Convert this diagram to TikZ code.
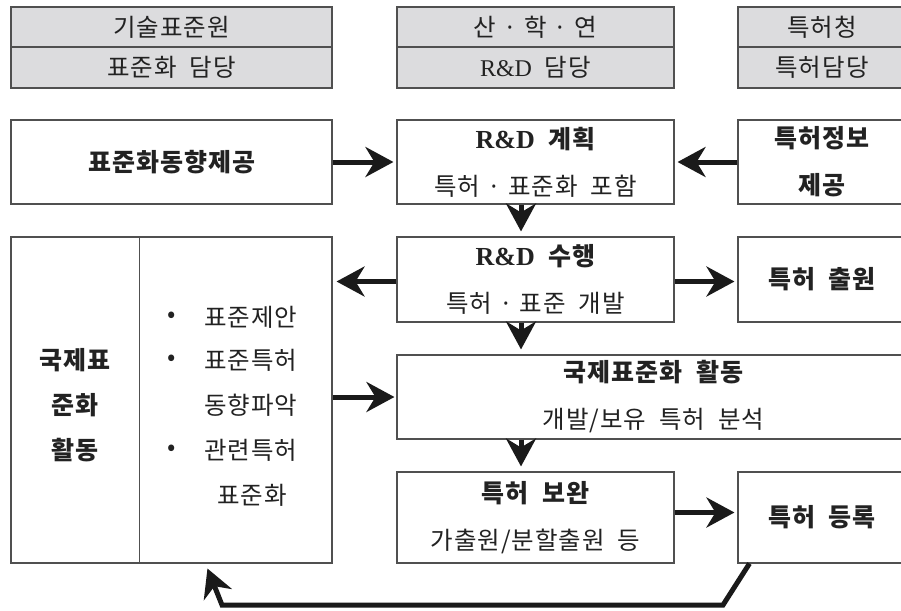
\documentclass[tikz,border=0pt]{standalone}
\usepackage{fontspec}
\usetikzlibrary{arrows.meta,calc}
\newfontfamily\kr[LetterSpace=4,WordSpace=2]{Noto Sans CJK KR}
\newfontfamily\lat{Liberation Serif}
\definecolor{hdrgray}{HTML}{DCDCDE}
\definecolor{edge}{HTML}{505050}
\definecolor{ink}{HTML}{222222}
\definecolor{arrowc}{HTML}{1A1A1A}
\tikzset{
  box/.style={draw=edge, line width=1.1pt, fill=white, inner sep=0pt, text=ink,
    font=\kr\fontsize{24.5}{47}\selectfont, align=center},
  bbox/.style={box, font=\kr\bfseries\fontsize{25}{47}\selectfont},
  hdr/.style={box, fill=hdrgray},
  txt/.style={inner sep=0pt, text=ink, font=\kr\fontsize{24.5}{26}\selectfont},
  btxt/.style={inner sep=0pt, text=ink, font=\kr\bfseries\fontsize{25}{26}\selectfont},
  arr/.style={draw=arrowc, line width=5pt, -{Stealth[length=28pt,width=30pt,inset=9pt]}},
}
\newcommand{\RD}{{\lat\fontsize{24}{26}\selectfont R\&D}}
\newcommand{\RDb}{{\lat\bfseries\fontsize{26}{26}\selectfont R\&D}}
\newcommand{\bl}[1]{{\bfseries\fontsize{25}{47}\selectfont #1}}
\newcommand{\md}{\hspace{7pt}·\hspace{7pt}}
\begin{document}
\begin{tikzpicture}[x=1pt,y=-1pt]
\useasboundingbox (0,0) rectangle (901,610);
\clip (0,0) rectangle (901,610);
% headers
\node[hdr, minimum width=321, minimum height=40] (hA1) at (171.5,27) {기술표준원};
\node[hdr, minimum width=321, minimum height=41] (hA2) at (171.5,67.5) {표준화 담당};
\node[hdr, minimum width=277, minimum height=40] (hB1) at (535.5,27) {산\md 학\md 연};
\node[hdr, minimum width=277, minimum height=41] (hB2) at (535.5,67.5) {\RD\ 담당};
\node[hdr, minimum width=168, minimum height=40] (hC1) at (822,27) {특허청};
\node[hdr, minimum width=168, minimum height=41] (hC2) at (822,67.5) {특허담당};
% row 1
\node[bbox, minimum width=321, minimum height=84] (std) at (171.5,162) {표준화동향제공};
\node[box, minimum width=277, minimum height=84] (plan) at (535.5,162) {\bl{\RDb\ 계획}\\특허\md 표준화 포함};
\node[bbox, minimum width=168, minimum height=84] (info) at (822,162) {특허정보\\제공};
% row 2
\node[box, minimum width=277, minimum height=85] (exec) at (535.5,279.5) {\bl{\RDb\ 수행}\\특허\md 표준 개발};
\node[bbox, minimum width=168, minimum height=85] (file) at (822,279.5) {특허 출원};
% big left box
\node[box, minimum width=321, minimum height=326] (intl) at (171.5,400) {};
\draw[draw=edge, line width=1.1pt] ([xshift=129pt]intl.north west) coordinate (dT) -- ([xshift=129pt]intl.south west) coordinate (dB);
\node[btxt] (l1) at (75,360) {국제표};
\node[btxt] (l2) at (75,405) {준화};
\node[btxt] (l3) at (75,450) {활동};
\node[txt] (b1) at (172,317) {•};
\node[txt] (b2) at (172,360) {•};
\node[txt] (b3) at (172,450) {•};
\node[txt, anchor=west] (t1) at (204,317) {표준제안};
\node[txt, anchor=west] (t2) at (204,360) {표준특허};
\node[txt, anchor=west] (t3) at (204,405) {동향파악};
\node[txt, anchor=west] (t4) at (204,450) {관련특허};
\node[txt, anchor=west] (t5) at (217,495) {표준화};
% row 3
\node[box, minimum width=513, minimum height=84] (act) at (653.5,397) {\bl{국제표준화 활동}\\개발/보유 특허 분석};
% row 4
\node[box, minimum width=277, minimum height=91] (supp) at (535.5,517.5) {\bl{특허 보완}\\가출원/분할출원 등};
\node[bbox, minimum width=168, minimum height=91] (reg) at (822,517.5) {특허 등록};
% arrows
\draw[arr, shorten >=3pt] (std.east) -- (plan.west);
\draw[arr, shorten >=3pt] (info.west) -- (plan.east);
\draw[arr, shorten >=4pt] ([yshift=-2pt]exec.west) -- ([yshift=-2pt]exec.west -| intl.east);
\draw[arr, shorten >=3pt] ([yshift=-2pt]exec.east) -- ([yshift=-2pt]file.west);
\draw[arr, shorten >=2pt] (act.west -| intl.east) -- (act.west);
\draw[arr, shorten >=3pt] ([yshift=5pt]supp.east) -- ([yshift=5pt]reg.west);
\draw[arr, shorten >=5pt] ([xshift=-14.5pt]plan.south) -- ([xshift=-14.5pt]exec.north);
\draw[arr, shorten >=5pt] ([xshift=-14.5pt]exec.south) -- ([xshift=-14.5pt]exec.south |- act.north);
\draw[arr, shorten >=5pt] ([xshift=-14.5pt]supp.north |- act.south) -- ([xshift=-14.5pt]supp.north);
\coordinate (fbA) at (723,605);
\coordinate (fbB) at (222,605);
\draw[arr, line join=miter] ([xshift=12pt]reg.south west) -- (fbA) -- (fbB) -- ([xshift=197pt,yshift=-5pt]intl.south west);
\end{tikzpicture}
\end{document}
